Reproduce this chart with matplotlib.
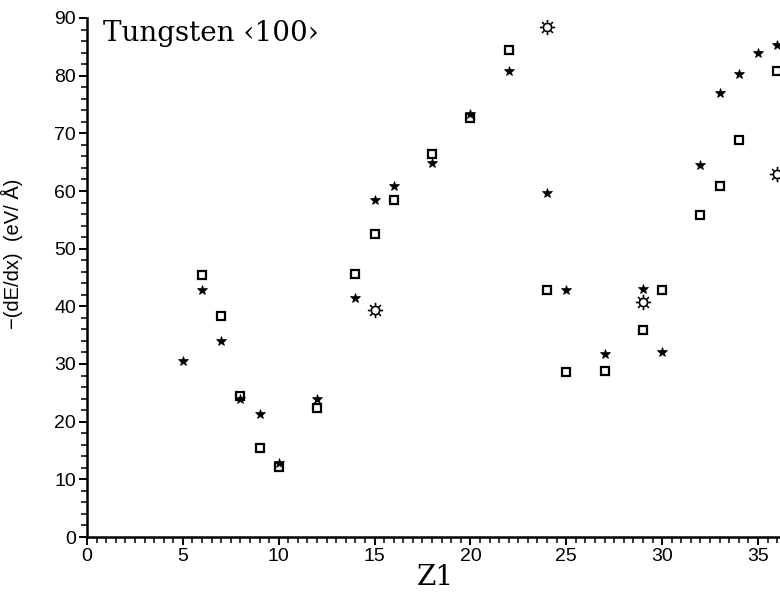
import numpy as np
import matplotlib
matplotlib.use("Agg")
import matplotlib.pyplot as plt
from matplotlib.path import Path
from matplotlib.ticker import MultipleLocator

# ---- data ----
star_z = [5, 6, 7, 8, 9, 10, 12, 14, 15, 16, 18, 20, 22, 24, 25, 27, 29, 30, 32, 33, 34, 35, 36]
star_v = [30.6, 42.9, 34.0, 24.0, 21.4, 12.9, 24.0, 41.4, 58.5, 60.9, 64.9, 73.3, 80.8, 59.7,
          42.8, 31.8, 43.0, 32.0, 64.5, 77.0, 80.3, 84.0, 85.3]

sq_z = [6, 7, 8, 9, 10, 12, 14, 15, 16, 18, 20, 22, 24, 25, 27, 29, 30, 32, 33, 34, 36]
sq_v = [45.4, 38.3, 24.4, 15.4, 12.2, 22.4, 45.6, 52.5, 58.5, 66.4, 72.6, 84.5, 42.8,
        28.6, 28.8, 35.9, 42.8, 55.8, 60.9, 68.8, 80.8]

sun_z = [15, 24, 29, 36]
sun_v = [39.3, 88.5, 40.8, 63.0]

x_ticks = [0, 5, 10, 15, 20, 25, 30, 35]
y_ticks = [0, 10, 20, 30, 40, 50, 60, 70, 80, 90]

# ---- sun marker path ----
circ = Path.circle((0, 0), 0.27)
verts, codes = [], []
for a in np.arange(8) * np.pi / 4:
    verts += [(0.33 * np.cos(a), 0.33 * np.sin(a)), (0.5 * np.cos(a), 0.5 * np.sin(a))]
    codes += [Path.MOVETO, Path.LINETO]
rays = Path(verts, codes)
sun = Path.make_compound_path(circ, rays)

fig = plt.figure(figsize=(7.8, 5.95), dpi=100)
ax = fig.add_axes([87 / 780, 1 - 537 / 595, 1 - 87 / 780, (537 - 18) / 595])

ax.plot(sq_z, sq_v, linestyle='none', marker='s', ms=5.2, mfc='none', mec='black', mew=1.6)
ax.plot(star_z, star_v, linestyle='none', marker='*', ms=7.5, mfc='black', mec='black', mew=0.5)
ax.plot(sun_z, sun_v, linestyle='none', marker=sun, ms=11, mfc='none', mec='black', mew=1.2)

ax.set_xlim(0, 693 / 19.17)
ax.set_ylim(0, 90)
ax.set_xticks(x_ticks)
ax.set_yticks(y_ticks)
ax.xaxis.set_minor_locator(MultipleLocator(0.5))
ax.yaxis.set_minor_locator(MultipleLocator(2))

for s in ['top', 'right']:
    ax.spines[s].set_visible(False)
for s in ['left', 'bottom']:
    ax.spines[s].set_linewidth(1.8)

ax.tick_params(which='major', direction='out', length=6, width=1.4, labelsize=14, pad=2)
ax.tick_params(which='minor', direction='out', length=4, width=1.1)
for lab in ax.get_xticklabels() + ax.get_yticklabels():
    lab.set_family('Liberation Sans')

ax.set_xlabel('Z1', fontsize=20, family='DejaVu Serif')
ax.set_ylabel('−(dE/dx)  (eV/ Å)', fontsize=14.5, family='Liberation Sans')
ax.xaxis.set_label_coords((435 - 87) / 693, -(564 - 537) / 519)
ax.yaxis.set_label_coords((23 - 87) / 693, (537 - 254) / 519)

ax.text(16 / 693, (537 - 20) / 519, 'Tungsten ‹100›', transform=ax.transAxes,
        fontsize=20, family='DejaVu Serif', va='top', ha='left')

fig.savefig('out.png', dpi=100)
